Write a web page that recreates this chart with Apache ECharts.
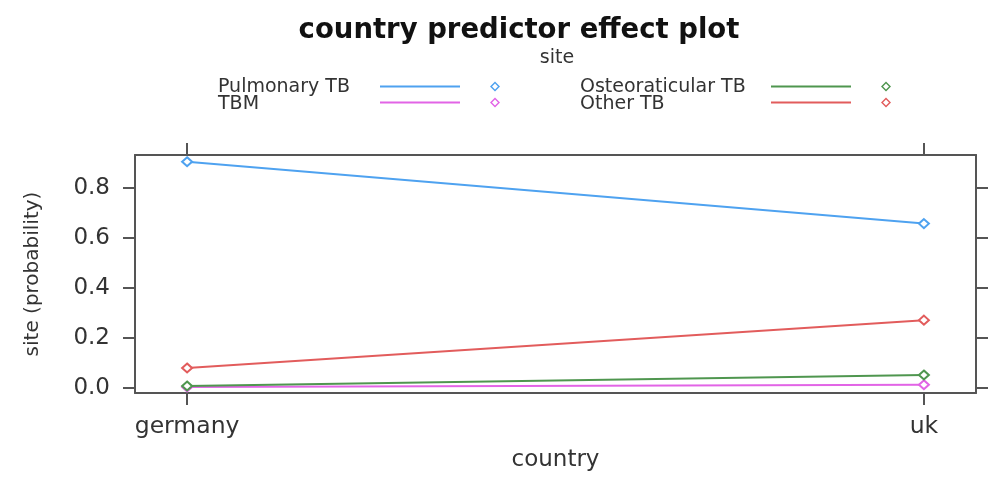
<!DOCTYPE html>
<html>
<head>
<meta charset="utf-8">
<script src="https://cdn.jsdelivr.net/npm/echarts@6/dist/echarts.min.js"></script>
<style>
html,body{margin:0;padding:0;background:#fff;}
#chart{width:998px;height:477px;}
</style>
</head>
<body>
<div id="chart"></div>
<script>
// ---- data ----
const countries = ['germany', 'uk'];
const seriesNames = ['Pulmonary TB', 'TBM', 'Osteoraticular TB', 'Other TB'];
const pulmonaryTB = [0.904, 0.657];
const tbm = [0.004, 0.013];
const osteoraticularTB = [0.008, 0.052];
const otherTB = [0.080, 0.271];
const yTicks = [0.0, 0.2, 0.4, 0.6, 0.8];
const xTicks = [0, 1];

const seriesValues = [pulmonaryTB, tbm, osteoraticularTB, otherTB];
const colors = ['#4ea2f0', '#e264e6', '#4f964f', '#e25c5c'];
const FONT = 'DejaVu Sans';
const axisColor = '#555';
const textColor = '#333';

const iconPath = 'path://M0,4.5L80,4.5L80,6.5L0,6.5Z M115,0.5L120,5.5L115,10.5L110,5.5Z M115,2.5L112,5.5L115,8.5L118,5.5Z M0,0L0,0 M120,11L120,11';

const chart = echarts.init(document.getElementById('chart'), null, {renderer: 'canvas'});

function textLegend(names, left) {
  return {
    data: names, orient: 'vertical', left: left, top: 78, padding: 0,
    icon: 'none', itemWidth: 0, itemHeight: 10, itemGap: -2,
    selectedMode: false,
    textStyle: {fontFamily: FONT, fontSize: 19, lineHeight: 16, color: textColor}
  };
}
function iconLegend(names, left) {
  return {
    data: names, orient: 'vertical', left: left, top: 81, padding: 0,
    icon: iconPath, itemWidth: 120, itemHeight: 11, itemGap: 5,
    selectedMode: false,
    formatter: () => '',
    itemStyle: {borderWidth: 0},
    textStyle: {fontFamily: FONT, fontSize: 8, lineHeight: 8}
  };
}

const option = {
  animation: false,
  backgroundColor: '#fff',
  title: [
    {text: 'country predictor effect plot', left: 519, top: 17, textAlign: 'center', padding: 0,
     textStyle: {fontFamily: FONT, fontWeight: 'bold', fontSize: 27.5, color: '#111'}},
    {text: 'site', left: 557, top: 49, textAlign: 'center', padding: 0,
     textStyle: {fontFamily: FONT, fontWeight: 'normal', fontSize: 19, color: textColor}}
  ],
  legend: [
    textLegend(['Pulmonary TB', 'TBM'], 213),
    iconLegend(['Pulmonary TB', 'TBM'], 380),
    textLegend(['Osteoraticular TB', 'Other TB'], 575),
    iconLegend(['Osteoraticular TB', 'Other TB'], 771)
  ],
  grid: {left: 135, right: 22, top: 155, bottom: 83, containLabel: false},
  xAxis: [
    {
      type: 'value', position: 'bottom', min: -0.0707, max: 1.0707,
      name: 'country', nameLocation: 'middle', nameGap: 56,
      nameTextStyle: {fontFamily: FONT, fontSize: 23, color: textColor},
      axisLine: {show: true, onZero: false, lineStyle: {color: axisColor, width: 2}},
      axisTick: {show: true, inside: false, length: 12, customValues: xTicks, lineStyle: {color: axisColor, width: 2}},
      axisLabel: {show: true, customValues: xTicks, margin: 22, formatter: v => countries[Math.round(v)],
        fontFamily: FONT, fontSize: 23.5, color: textColor},
      splitLine: {show: false}
    },
    {
      type: 'value', position: 'top', min: -0.0707, max: 1.0707,
      axisLine: {show: true, onZero: false, lineStyle: {color: axisColor, width: 2}},
      axisTick: {show: true, inside: false, length: 12, customValues: xTicks, lineStyle: {color: axisColor, width: 2}},
      axisLabel: {show: false},
      splitLine: {show: false}
    }
  ],
  yAxis: [
    {
      type: 'value', position: 'left', min: -0.02, max: 0.931,
      name: 'site (probability)', nameLocation: 'middle', nameGap: 92,
      nameTextStyle: {fontFamily: FONT, fontSize: 20, color: textColor},
      axisLine: {show: true, onZero: false, lineStyle: {color: axisColor, width: 2}},
      axisTick: {show: true, inside: false, length: 12, customValues: yTicks, lineStyle: {color: axisColor, width: 2}},
      axisLabel: {show: true, customValues: yTicks, margin: 25, formatter: v => v.toFixed(1),
        fontFamily: FONT, fontSize: 23, color: textColor},
      splitLine: {show: false}
    },
    {
      type: 'value', position: 'right', min: -0.02, max: 0.931,
      axisLine: {show: true, onZero: false, lineStyle: {color: axisColor, width: 2}},
      axisTick: {show: true, inside: false, length: 12, customValues: yTicks, lineStyle: {color: axisColor, width: 2}},
      axisLabel: {show: false},
      splitLine: {show: false}
    }
  ],
  series: seriesNames.map((name, i) => ({
    name: name,
    type: 'line',
    xAxisIndex: 0, yAxisIndex: 0,
    data: countries.map((c, j) => [j, seriesValues[i][j]]),
    symbol: 'emptyDiamond',
    symbolSize: [10, 9],
    showSymbol: true,
    color: colors[i],
    lineStyle: {color: colors[i], width: 2},
    itemStyle: {color: colors[i], borderWidth: 1.5},
    emphasis: {disabled: true},
    z: 2 + i
  }))
};
chart.setOption(option);
</script>
</body>
</html>
